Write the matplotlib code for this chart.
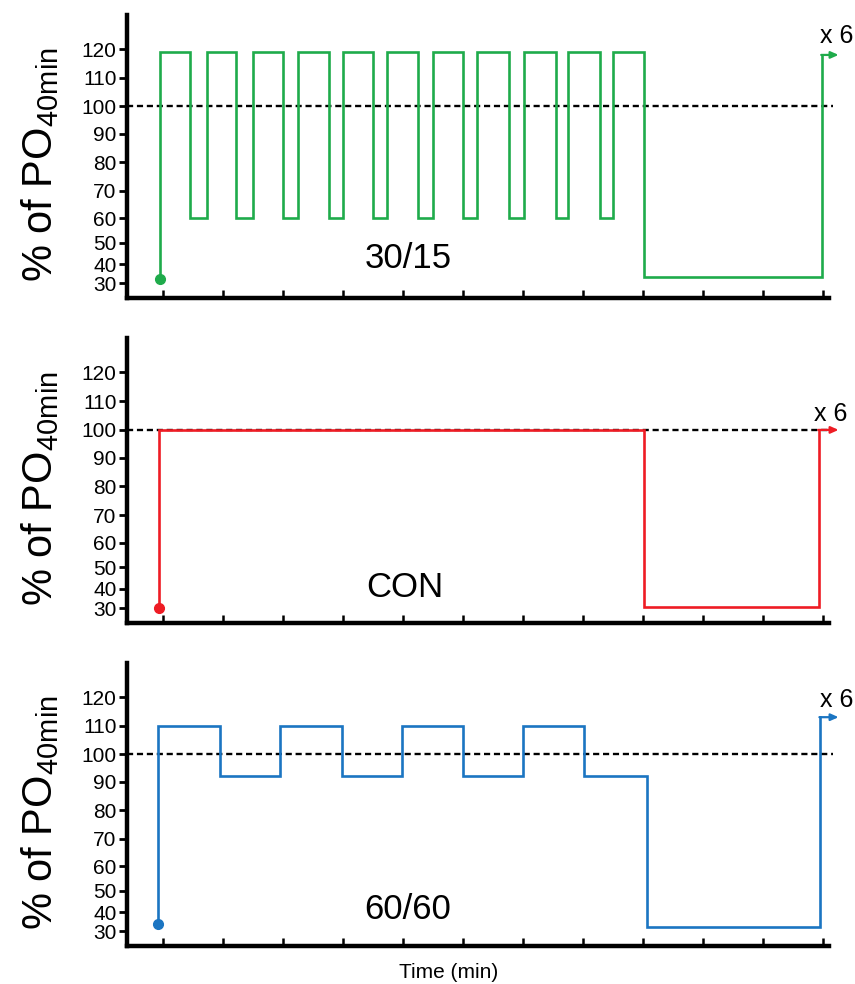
import numpy as np
import matplotlib
matplotlib.use("Agg")
import matplotlib.pyplot as plt

plt.rcParams['font.family'] = ['Liberation Sans', 'DejaVu Sans']
plt.rcParams['mathtext.default'] = 'regular'

# ---- y-axis tick values and their (non-uniform) spacing
ytick_vals = [30, 40, 50, 60, 70, 80, 90, 100, 110, 120]
ytick_pos = [-230, -211, -190, -166, -139, -111, -83, -56, -28, 0]
xtick_vals = list(range(12))

# ---- 30/15 protocol (green)
g_times = [-0.05, -0.05, 0.45, 0.45, 0.73, 0.73, 1.22, 1.22, 1.50, 1.50, 2.00, 2.00,
           2.25, 2.25, 2.77, 2.77, 3.00, 3.00, 3.50, 3.50, 3.73, 3.73, 4.25, 4.25,
           4.50, 4.50, 5.00, 5.00, 5.23, 5.23, 5.77, 5.77, 6.02, 6.02, 6.55, 6.55,
           6.75, 6.75, 7.28, 7.28, 7.50, 7.50, 8.02, 8.02, 10.98, 10.98]
g_vals = [32.5, 119, 119, 60, 60, 119, 119, 60, 60, 119, 119, 60,
          60, 119, 119, 60, 60, 119, 119, 60, 60, 119, 119, 60,
          60, 119, 119, 60, 60, 119, 119, 60, 60, 119, 119, 60,
          60, 119, 119, 60, 60, 119, 119, 33.5, 33.5, 118]

# ---- CON (red)
r_times = [-0.07, -0.07, 8.02, 8.02, 10.93, 10.93]
r_vals = [30, 100, 100, 30.5, 30.5, 100]

# ---- 60/60 (blue)
b_times = [-0.08, -0.08, 0.95, 0.95, 1.95, 1.95, 2.98, 2.98, 3.98, 3.98, 5.00, 5.00,
           6.00, 6.00, 7.02, 7.02, 8.07, 8.07, 10.95, 10.95]
b_vals = [34, 110, 110, 92, 92, 110, 110, 92, 92, 110, 110, 92,
          92, 110, 110, 92, 92, 32.5, 32.5, 113]

panel_labels = ["30/15", "CON", "60/60"]
colors = ["#1fab4b", "#ee1c24", "#1b75c2"]
series = [(g_times, g_vals), (r_times, r_vals), (b_times, b_vals)]
label_pos = [(4.08, 42.5), (4.03, 40.5), (4.08, 41)]
x6_pos = [(11.23, 124.5), (11.13, 105.5), (11.23, 119)]

# extended mapping for the custom y scale
_v = np.array([-200] + ytick_vals + [400], dtype=float)
_p = np.array([ytick_pos[0] - 230 * 1.9] + ytick_pos + [280 * 2.8], dtype=float)


def fwd(y):
    return np.interp(y, _v, _p)


def inv(p):
    return np.interp(p, _p, _v)


W, H = 855, 984
fig = plt.figure(figsize=(W / 100, H / 100), dpi=100)

axes_px = [(15, 298), (338, 623), (663, 946)]
left_px, right_px = 127, 829

for i, ((top, bot), (t, v)) in enumerate(zip(axes_px, series)):
    ax = fig.add_axes([left_px / W, 1 - bot / H, (right_px - left_px) / W, (bot - top) / H])
    ax.set_yscale('function', functions=(fwd, inv))
    ax.set_xlim(-0.6, 11.1)
    ax.set_ylim(22.5, 132)
    for s in ['top', 'right']:
        ax.spines[s].set_visible(False)
    for s in ['left', 'bottom']:
        ax.spines[s].set_linewidth(3.2)
        ax.spines[s].set_capstyle('projecting')
    ax.set_yticks(ytick_vals)
    ax.set_yticklabels([str(y) for y in ytick_vals])
    ax.yaxis.set_minor_locator(matplotlib.ticker.NullLocator())
    ax.set_xticks(xtick_vals)
    ax.set_xticklabels([])
    ax.tick_params(axis='y', direction='out', length=6, width=2, labelsize=15, pad=1.5)
    ax.tick_params(axis='x', direction='in', length=6, width=1.8)

    # dashed 100% reference
    ax.plot([-0.6, 11.17], [100, 100], ls=(0, (2.6, 1.6)), color='black', lw=1.7,
            zorder=1, clip_on=False)
    c = colors[i]
    ax.plot(t, v, color=c, lw=1.9, zorder=3, clip_on=False, solid_joinstyle='miter')
    ax.plot([t[0]], [v[0]], 'o', color=c, ms=7, zorder=4, clip_on=False)
    ax.annotate('', xy=(11.26, v[-1]), xytext=(t[-1] - 0.01, v[-1]),
                arrowprops=dict(arrowstyle='-|>,head_length=0.45,head_width=0.2',
                                color=c, lw=1.6, shrinkA=0, shrinkB=0),
                annotation_clip=False, zorder=4)
    ax.text(x6_pos[i][0], x6_pos[i][1], 'x 6', fontsize=18, ha='center', va='center',
            clip_on=False)
    ax.text(label_pos[i][0], label_pos[i][1], panel_labels[i], fontsize=25,
            ha='center', va='center')

    yc = (top + bot) / 2 + 8
    fig.text(40 / W, 1 - yc / H, r'% of PO$_{40min}$', rotation=90, fontsize=30,
             ha='center', va='center')

fig.text(449 / W, 1 - 973 / H, 'Time (min)', fontsize=15, ha='center', va='center')

fig.savefig('out.png', dpi=100)
